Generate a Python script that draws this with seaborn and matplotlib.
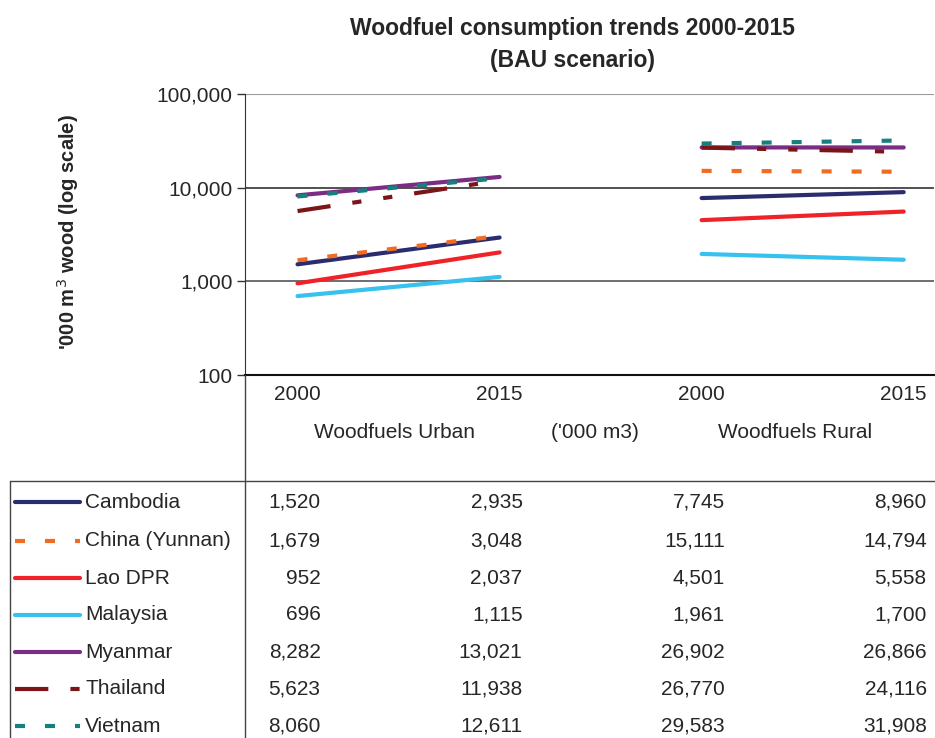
import numpy as np
import pandas as pd
import matplotlib
matplotlib.use("Agg")
import matplotlib.pyplot as plt
import matplotlib.transforms as mtransforms
from matplotlib.lines import Line2D
from matplotlib.ticker import FixedLocator, FuncFormatter
import seaborn as sns

# ---- data ('000 m3 wood) ----
countries = ["Cambodia", "China (Yunnan)", "Lao DPR", "Malaysia",
             "Myanmar", "Thailand", "Vietnam"]
urban_2000 = [1520, 1679, 952, 696, 8282, 5623, 8060]
urban_2015 = [2935, 3048, 2037, 1115, 13021, 11938, 12611]
rural_2000 = [7745, 15111, 4501, 1961, 26902, 26770, 29583]
rural_2015 = [8960, 14794, 5558, 1700, 26866, 24116, 31908]
year_labels = ["2000", "2015", "2000", "2015"]

colors = ["#2B2C6E", "#F26B22", "#EE2227", "#36C1EE",
          "#7B2D84", "#7C1517", "#15807D"]
dash_styles = ["", (2.4, 4.8), "", "", "", (8, 5.3, 2.2, 5.3, 2.2, 5.3), (2.4, 4.8)]

# long table for seaborn
rows = []
for i, c in enumerate(countries):
    rows.append((c, "urban", 0, urban_2000[i]))
    rows.append((c, "urban", 1, urban_2015[i]))
    rows.append((c, "rural", 2, rural_2000[i]))
    rows.append((c, "rural", 3, rural_2015[i]))
df = pd.DataFrame(rows, columns=["country", "group", "pos", "value"])

sns.set_style("white")
plt.rcParams["font.family"] = ["Liberation Sans", "DejaVu Sans"]

W, H = 935, 738
FS = 15
fig = plt.figure(figsize=(W / 100, H / 100), dpi=100)
ax = fig.add_axes([245 / W, 1 - 375 / H, (934 - 245) / W, (375 - 94) / H])

sns.lineplot(data=df, x="pos", y="value", hue="country", style="country",
             units="group", estimator=None, hue_order=countries,
             style_order=countries, palette=dict(zip(countries, colors)),
             dashes=dict(zip(countries, dash_styles)), linewidth=3,
             legend=False, ax=ax)
for ln in ax.lines:
    ln.set_solid_capstyle("round")

ax.set_yscale("log")
ax.set_ylim(100, 100000)
ax.set_xlim(-0.26, 3.15)
ax.yaxis.set_major_locator(FixedLocator([100, 1000, 10000, 100000]))
ax.yaxis.set_minor_locator(FixedLocator([]))
ax.yaxis.set_major_formatter(FuncFormatter(lambda v, p: f"{int(v):,}"))
ax.set_xticks([0, 1, 2, 3])
ax.set_xticklabels(year_labels)
ax.tick_params(axis="x", length=0, labelsize=FS, pad=7)
ax.tick_params(axis="y", length=6, width=1, direction="out", labelsize=FS,
               color="#333333", left=True, pad=3)
ax.set_xlabel("")
ax.set_ylabel("")
ax.grid(False)
for v, col in [(10000, "#333333"), (1000, "#555555")]:
    ax.axhline(v, color=col, lw=1.2, zorder=0)
ax.axhline(100000, color="#999999", lw=1.5, zorder=0)
for s in ["top", "right"]:
    ax.spines[s].set_visible(False)
ax.spines["left"].set_color("#333333")
ax.spines["bottom"].set_color("#111111")
ax.spines["bottom"].set_linewidth(1.5)

# y label
fig.text(68 / W, 1 - 232 / H, "'000 m$^3$ wood (log scale)", rotation=90,
         ha="center", va="center", fontsize=14.5, fontweight="bold")

# title
title_font = ["Liberation Sans Narrow", "Liberation Sans", "DejaVu Sans"]
fig.text(572 / W, 1 - 28 / H, "Woodfuel consumption trends 2000-2015",
         ha="center", va="center", fontsize=16.5, fontweight="bold", family=title_font)
fig.text(572 / W, 1 - 61 / H, "(BAU scenario)",
         ha="center", va="center", fontsize=16.5, fontweight="bold", family=title_font)

# ---- data table ----
tr = mtransforms.blended_transform_factory(ax.transData, fig.transFigure)
fy = lambda py: 1 - py / H

for txt, xp in [("Woodfuels Urban", 0.48), ("('000 m3)", 1.47), ("Woodfuels Rural", 2.46)]:
    ax.text(xp, fy(433), txt, transform=tr, ha="center", va="center",
            fontsize=FS, clip_on=False)

line_col = "#444444"
fig.add_artist(Line2D([245 / W, 245 / W], [fy(375), 0], transform=fig.transFigure,
                      color=line_col, lw=1))
fig.add_artist(Line2D([10 / W, 1], [fy(481), fy(481)], transform=fig.transFigure,
                      color=line_col, lw=1))
fig.add_artist(Line2D([10 / W, 10 / W], [fy(481), 0], transform=fig.transFigure,
                      color=line_col, lw=1))

row_y = [502, 541, 578, 615, 652, 689, 726]
table_cols = [urban_2000, urban_2015, rural_2000, rural_2015]
for i, c in enumerate(countries):
    yy = fy(row_y[i])
    key = Line2D([15 / W, 80 / W], [yy, yy], transform=fig.transFigure,
                 color=colors[i], lw=3)
    if dash_styles[i]:
        key.set_dashes(dash_styles[i])
    else:
        key.set_solid_capstyle("round")
    fig.add_artist(key)
    fig.text(85 / W, yy, c, ha="left", va="center", fontsize=FS)
    for j, col in enumerate(table_cols):
        ax.text(j + 0.114, yy, f"{col[i]:,}", transform=tr, ha="right",
                va="center", fontsize=FS, clip_on=False)

fig.savefig("out.png", dpi=100)
